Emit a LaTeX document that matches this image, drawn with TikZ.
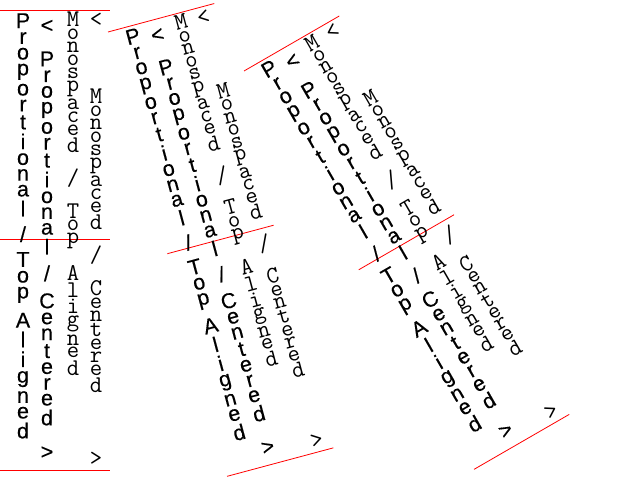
\documentclass[tikz,border=0pt]{standalone}
\usepackage{fontspec}
\setmainfont{Liberation Sans}
\newfontfamily\propfont[FakeBold=0.35]{Liberation Sans}
% vertical stacking of upright glyphs, ink box to ink box
\newif\ifvnogap
\newdimen\vgapdim
\def\vgmark{}
\def\vg{\vgmark}
\def\vgobble#1{}
\def\vfirst#1{#1}
\def\vloop#1{\ifx\relax#1\expandafter\vgobble\else\expandafter\vfirst\fi{\vstep#1}}
\def\vstep#1{\ifx\vg#1\expandafter\vgapread\else\vchar{#1}\expandafter\vloop\fi}
\def\vgapread#1{\kern#1pt\vnogaptrue\vloop}
\def\vchar#1{\ifvnogap\vnogapfalse\else\kern\vgapdim\fi\hbox to 0pt{\hss#1\hss}}
\newcommand\vtext[2]{\vbox{\offinterlineskip\vgapdim=#1pt\relax\vnogaptrue\vloop#2\relax}}
\tikzset{
  propcol/.style={inner sep=0pt, outer sep=0pt, font=\propfont\fontsize{21.5}{21.5}\selectfont},
  monocol/.style={inner sep=0pt, outer sep=0pt, font=\ttfamily\fontsize{24}{24}\selectfont},
  redline/.style={draw=red, line width=0.8pt}
}
\begin{document}
\begin{tikzpicture}[x=1pt,y=-1pt]
\fill[white] (0,0) rectangle (640,480);
\useasboundingbox (0,0) rectangle (640,480);
\foreach \ang/\ox/\oy/\n in {0/0/10/a, 15/108/32/b, 30/244/71/c}{
  \begin{scope}[shift={(\ox,\oy)}, rotate=\ang, transform shape]
    \draw[redline] (0,0) -- (110,0);
    \draw[redline] (0,229.5) -- (110,229.5);
    \draw[redline] (0,460) -- (110,460);
    \node[propcol, anchor=north] (\n1) at (23,3.3)
      {\vtext{4.1}{Proportional\vg{10}/\vg{10}Top\vg{10}Aligned}};
    \node[propcol, anchor=center] (\n2) at (47,229.5)
      {\vtext{4.1}{<\vg{19}Proportional\vg{11}/\vg{12}Centered\vg{21}>}};
    \node[monocol, anchor=north] (\n3) at (73,2)
      {\vtext{2.3}{Monospaced\vg{16}/\vg{16}Top\vg{16}Aligned}};
    \node[monocol, anchor=center] (\n4) at (96,229.5)
      {\vtext{2.3}{<\vg{62}Monospaced\vg{16}/\vg{16}Centered\vg{59}>}};
  \end{scope}
}
\end{tikzpicture}
\end{document}
